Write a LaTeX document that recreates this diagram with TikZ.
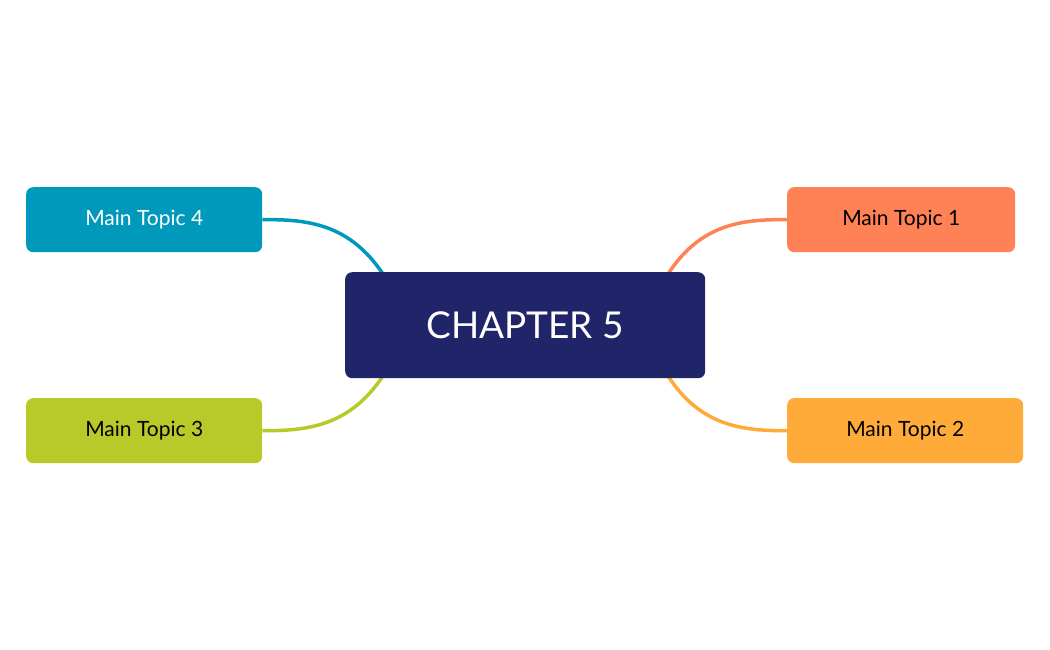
\documentclass[tikz,border=0pt]{standalone}
\usepackage{fontspec}
\setmainfont{Lato}
\begin{document}
\begin{tikzpicture}[x=1pt,y=-1pt,
  topic/.style={rounded corners=7pt,anchor=north west,inner sep=0pt,font=\fontsize{21}{24}\selectfont},
  link/.style={line width=3.5pt}]
\useasboundingbox (0,0) rectangle (1050,650);
\definecolor{cnavy}{HTML}{20256A}
\definecolor{corange}{HTML}{FF8257}
\definecolor{cyellow}{HTML}{FFAB3A}
\definecolor{cblue}{HTML}{0099BB}
\definecolor{cgreen}{HTML}{B8C92A}
\coordinate (c1) at (668,274);
\coordinate (c2) at (668,376);
\coordinate (c3) at (383,376);
\coordinate (c4) at (383,274);
\node[topic,fill=corange,minimum width=228pt,minimum height=65pt] (t1) at (787,187) {Main Topic 1};
\node[topic,fill=cyellow,minimum width=236pt,minimum height=65pt] (t2) at (787,398) {Main Topic 2};
\node[topic,fill=cgreen,minimum width=236pt,minimum height=65pt] (t3) at (26,398) {Main Topic 3};
\node[topic,fill=cblue,text=white,minimum width=236pt,minimum height=65pt] (t4) at (26,187) {Main Topic 4};
\draw[link,corange] (c1) .. controls (700,225) and (740,219) .. (t1.west);
\draw[link,cyellow] (c2) .. controls (700,425) and (740,431) .. (t2.west);
\draw[link,cgreen] (c3) .. controls (350,425) and (310,431) .. (t3.east);
\draw[link,cblue] (c4) .. controls (350,225) and (310,219) .. (t4.east);
\node[rounded corners=7pt,fill=cnavy,text=white,anchor=north west,minimum width=360pt,minimum height=106pt,font=\fontsize{37}{44}\selectfont] (c) at (345,272) {CHAPTER 5};
\end{tikzpicture}
\end{document}
